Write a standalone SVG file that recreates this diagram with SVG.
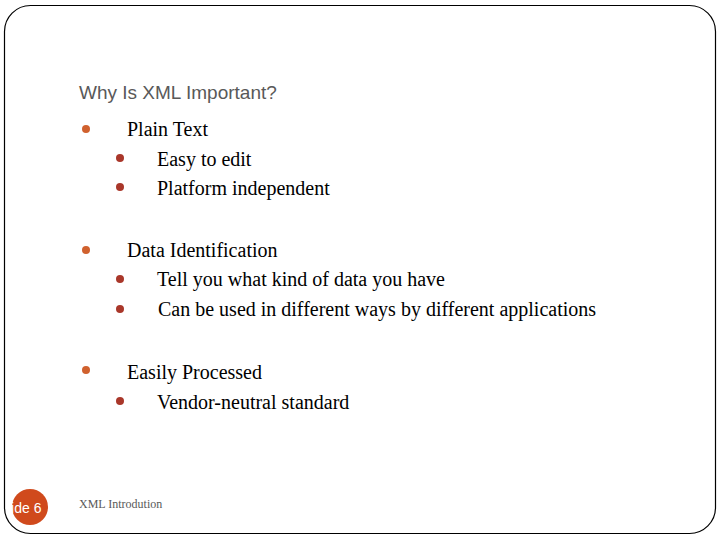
<svg xmlns="http://www.w3.org/2000/svg" width="720" height="540" viewBox="0 0 720 540">
<style>
.t{font-family:"Liberation Serif",serif;font-size:20px;fill:#000}
.b1{fill:#D0612E}.b2{fill:#A9372A}
</style>
<rect width="720" height="540" fill="#fff"/>
<rect x="4.5" y="5.5" width="711" height="528" rx="26" fill="none" stroke="#000" stroke-width="1.2"/>
<text x="79" y="99" font-family="Liberation Sans,sans-serif" font-size="19" fill="#595959">Why Is XML Important?</text>
<g id="b1"><circle cx="86" cy="129" r="4" class="b1"/><text x="127" y="136" class="t">Plain Text</text></g>
<g id="b2"><circle cx="120" cy="158" r="4" class="b2"/><text x="157" y="166" class="t">Easy to edit</text></g>
<g id="b3"><circle cx="120" cy="187" r="4" class="b2"/><text x="157" y="195" class="t">Platform independent</text></g>
<g id="b4"><circle cx="86" cy="250" r="4" class="b1"/><text x="127" y="257" class="t">Data Identification</text></g>
<g id="b5"><circle cx="120" cy="279" r="4" class="b2"/><text x="157" y="286" class="t">Tell you what kind of data you have</text></g>
<g id="b6"><circle cx="120" cy="309" r="4" class="b2"/><text x="158" y="316" class="t">Can be used in different ways by different applications</text></g>
<g id="b7"><circle cx="86" cy="370" r="4" class="b1"/><text x="127" y="379" class="t" font-size="21">Easily Processed</text></g>
<g id="b8"><circle cx="120" cy="401" r="4" class="b2"/><text x="157" y="409" class="t">Vendor-neutral standard</text></g>
<circle cx="30" cy="507" r="18" fill="#D04A1C"/>
<text x="8" y="513" font-family="Liberation Sans,sans-serif" font-size="14" fill="#fff">lide 6</text>
<text x="79" y="508" font-family="Liberation Serif,serif" font-size="12" fill="#595959">XML Introdution</text>
</svg>
